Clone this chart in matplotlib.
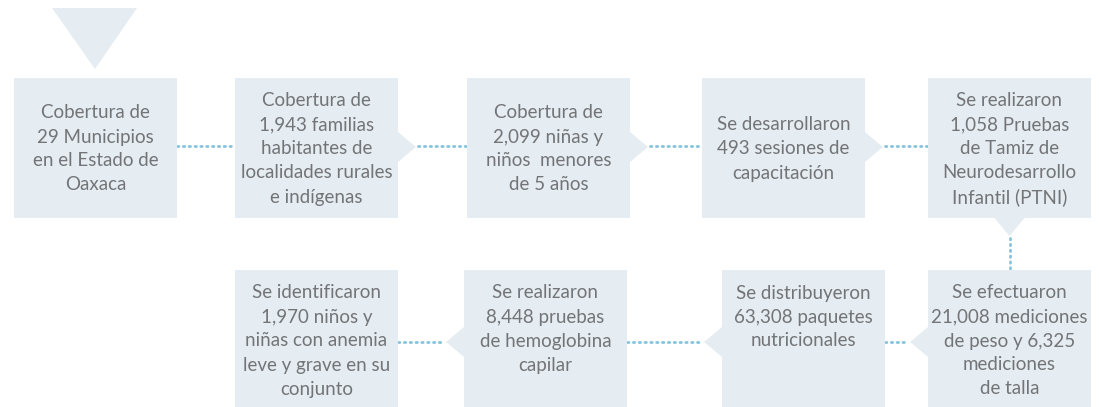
import matplotlib.pyplot as plt
from matplotlib.patches import Polygon, Rectangle

plt.rcParams["font.family"] = ["Lato", "DejaVu Sans"]

# Flow steps (top row left->right, then bottom row right->left)
top_texts = [
    ["Cobertura de", "29 Municipios", "en el Estado de", "Oaxaca"],
    ["Cobertura de", "1,943 familias", "habitantes de", "localidades rurales", "e indígenas"],
    ["Cobertura de", "2,099 niñas y", "niños  menores", "de 5 años"],
    ["Se desarrollaron", "493 sesiones de", "capacitación"],
    ["Se realizaron", "1,058 Pruebas", "de Tamiz de", "Neurodesarrollo", "Infantil (PTNI)"],
]
bottom_texts = [
    ["Se efectuaron", "21,008 mediciones", "de peso y 6,325", "mediciones", "de talla"],
    ["Se distribuyeron", "63,308 paquetes", "nutricionales"],
    ["Se realizaron", "8,448 pruebas", "de hemoglobina", "capilar"],
    ["Se identificaron", "1,970 niños y", "niñas con anemia", "leve y grave en su", "conjunto"],
]
top_x = [14, 235, 467, 702, 928]
bottom_x = [928, 722, 464, 235]

box_w = 163
box_col = "#e5edf2"
txt_col = "#727477"
dot_col = "#86c3dc"
line_h = 24

fig = plt.figure(figsize=(10.99, 4.07), dpi=100)
ax = fig.add_axes([0, 0, 1, 1])
ax.set_xlim(0, 1099)
ax.set_ylim(407, 0)
ax.axis("off")

def dotted(x0, y0, x1, y1):
    ax.plot([x0, x1], [y0, y1], color=dot_col, lw=2.0,
            linestyle=(0, (0.5, 1.6)), dash_capstyle="round", zorder=1)

# start marker
ax.add_patch(Polygon([(52, 8), (137, 8), (95, 69)], closed=True,
                     facecolor=box_col, edgecolor="none"))

# top row
ty0, ty1 = 78, 218
tcy = 147
for i, (x, lines) in enumerate(zip(top_x, top_texts)):
    ax.add_patch(Rectangle((x, ty0), box_w, ty1 - ty0, facecolor=box_col,
                           edgecolor="none", zorder=2))
    n = len(lines)
    for j, s in enumerate(lines):
        ax.text(x + box_w / 2, tcy + 2 + (j - (n - 1) / 2) * line_h, s,
                ha="center", va="center", color=txt_col, fontsize=13.5, zorder=3)
    if 0 < i < len(top_x) - 1:
        ax.add_patch(Polygon([(x + box_w, tcy - 15), (x + box_w + 18, tcy),
                              (x + box_w, tcy + 15)], closed=True,
                             facecolor=box_col, edgecolor="none", zorder=2))
    if i < len(top_x) - 1:
        dotted(x + box_w + (20 if i > 0 else 0), tcy - 1, top_x[i + 1], tcy - 1)

# turn down
cx = top_x[-1] + box_w / 2
ax.add_patch(Polygon([(cx - 15, ty1), (cx + 15, ty1), (cx, ty1 + 18)], closed=True,
                     facecolor=box_col, edgecolor="none", zorder=2))
by0, by1 = 270, 420
dotted(cx, ty1 + 20, cx, by0)

# bottom row
bcy = 342
for i, (x, lines) in enumerate(zip(bottom_x, bottom_texts)):
    ax.add_patch(Rectangle((x, by0), box_w, by1 - by0, facecolor=box_col,
                           edgecolor="none", zorder=2))
    for j, s in enumerate(lines):
        ax.text(x + box_w / 2, 293 + j * line_h, s,
                ha="center", va="center", color=txt_col, fontsize=13.5, zorder=3)
    if i < len(bottom_x) - 1:
        ax.add_patch(Polygon([(x, bcy - 15), (x - 18, bcy), (x, bcy + 15)], closed=True,
                             facecolor=box_col, edgecolor="none", zorder=2))
        nx = bottom_x[i + 1] + box_w
        dotted(nx, bcy, x - 20, bcy)

fig.savefig("out.png", dpi=100)
